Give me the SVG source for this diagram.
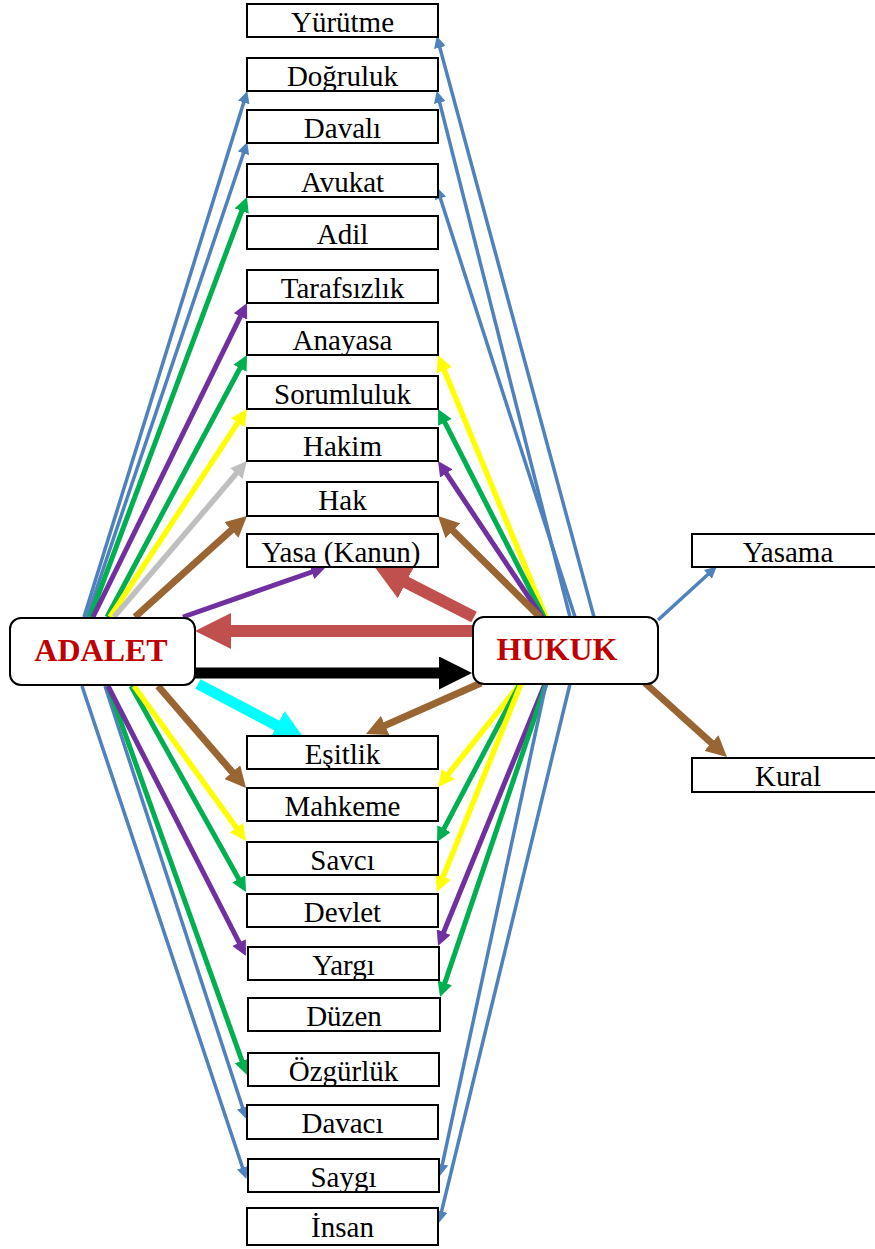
<svg xmlns="http://www.w3.org/2000/svg" width="875" height="1249" viewBox="0 0 875 1249">
<style>
.box{fill:#fff;stroke:#000;stroke-width:2}
.hub{fill:#fff;stroke:#000;stroke-width:2}
.lbl{font-size:29px;font-weight:normal;fill:#000;text-anchor:middle}
.hubt{font-size:32px;font-weight:bold;fill:#C00000;text-anchor:middle}
line{fill:none}
.bl{stroke:#4F81BD;stroke-width:3.5;marker-end:url(#mBl)}
.gr{stroke:#00B050;stroke-width:5;marker-end:url(#mGr)}
.pu{stroke:#7030A0;stroke-width:5;marker-end:url(#mPu)}
.ye{stroke:#FFFF00;stroke-width:5.5;marker-end:url(#mYe)}
.ga{stroke:#BFBFBF;stroke-width:5.5;marker-end:url(#mGa)}
.br{stroke:#996633;stroke-width:7;marker-end:url(#mBr)}
.cy{stroke:#00FFFF;stroke-width:11;marker-end:url(#mCy)}
.rd{stroke:#C0504D;stroke-width:12;marker-end:url(#mRd)}
.bk{stroke:#000;stroke-width:11;marker-end:url(#mBk)}
</style>
<defs>
<marker id="mBl" viewBox="0 0 3 3" refX="0.9" refY="1.5" markerWidth="3.4" markerHeight="3.4" orient="auto"><path d="M0,0L3,1.5L0,3z" fill="#4F81BD"/></marker>
<marker id="mGr" viewBox="0 0 3 3" refX="0.9" refY="1.5" markerWidth="3" markerHeight="3" orient="auto"><path d="M0,0L3,1.5L0,3z" fill="#00B050"/></marker>
<marker id="mPu" viewBox="0 0 3 3" refX="0.9" refY="1.5" markerWidth="3" markerHeight="3" orient="auto"><path d="M0,0L3,1.5L0,3z" fill="#7030A0"/></marker>
<marker id="mYe" viewBox="0 0 3 3" refX="0.9" refY="1.5" markerWidth="3" markerHeight="3" orient="auto"><path d="M0,0L3,1.5L0,3z" fill="#FFFF00"/></marker>
<marker id="mGa" viewBox="0 0 3 3" refX="0.9" refY="1.5" markerWidth="3" markerHeight="3" orient="auto"><path d="M0,0L3,1.5L0,3z" fill="#BFBFBF"/></marker>
<marker id="mBr" viewBox="0 0 3 3" refX="0.9" refY="1.5" markerWidth="3" markerHeight="3" orient="auto"><path d="M0,0L3,1.5L0,3z" fill="#996633"/></marker>
<marker id="mCy" viewBox="0 0 3 3" refX="0.9" refY="1.5" markerWidth="3" markerHeight="3" orient="auto"><path d="M0,0L3,1.5L0,3z" fill="#00FFFF"/></marker>
<marker id="mRd" viewBox="0 0 3 3" refX="0.9" refY="1.5" markerWidth="3" markerHeight="3" orient="auto"><path d="M0,0L3,1.5L0,3z" fill="#C0504D"/></marker>
<marker id="mBk" viewBox="0 0 3 3" refX="0.9" refY="1.5" markerWidth="3" markerHeight="3" orient="auto"><path d="M0,0L3,1.5L0,3z" fill="#000"/></marker>
</defs>
<rect width="875" height="1249" fill="#fff"/>
<g id="connectors">
<line class="bl" x1="84" y1="617" x2="244.8" y2="99"/>
<line class="bl" x1="87" y1="617" x2="244.6" y2="150"/>
<line class="gr" x1="90" y1="617" x2="243.3" y2="206.8"/>
<line class="pu" x1="93" y1="617" x2="242.4" y2="312.4"/>
<line class="gr" x1="107" y1="617" x2="242.1" y2="364.3"/>
<line class="ye" x1="110" y1="617" x2="240.6" y2="418.6"/>
<line class="ga" x1="114" y1="617" x2="239.5" y2="469.8"/>
<line class="br" x1="135" y1="617" x2="236.1" y2="525.8"/>
<line class="pu" x1="183" y1="617" x2="316.1" y2="570.5"/>
<line class="bl" x1="82" y1="686" x2="243.7" y2="1171"/>
<line class="bl" x1="105" y1="686" x2="243.7" y2="1111"/>
<line class="gr" x1="108" y1="686" x2="243.5" y2="1065.1"/>
<line class="pu" x1="108" y1="686" x2="241.2" y2="946.6"/>
<line class="gr" x1="131" y1="686" x2="240.9" y2="882.8"/>
<line class="ye" x1="134" y1="686" x2="239.2" y2="831.6"/>
<line class="br" x1="158" y1="686" x2="236.4" y2="776.9"/>
<line class="cy" x1="198" y1="684" x2="285.6" y2="730.2"/>
<line class="bl" x1="594" y1="617" x2="438.9" y2="44.1"/>
<line class="bl" x1="570" y1="617" x2="438.8" y2="99.1"/>
<line class="bl" x1="575" y1="617" x2="439.3" y2="195"/>
<line class="ye" x1="546" y1="617" x2="442.4" y2="365.7"/>
<line class="gr" x1="544" y1="617" x2="442.8" y2="418.4"/>
<line class="pu" x1="542" y1="617" x2="443.8" y2="469.7"/>
<line class="br" x1="540" y1="617" x2="448.4" y2="526.3"/>
<line class="rd" x1="474" y1="617" x2="396.4" y2="577.4"/>
<line class="rd" x1="473" y1="631" x2="220.2" y2="631"/>
<line class="bk" x1="195" y1="673" x2="448.9" y2="673"/>
<line class="br" x1="481" y1="683" x2="379.4" y2="728"/>
<line class="ye" x1="520" y1="684" x2="445.2" y2="778"/>
<line class="gr" x1="520" y1="684" x2="441.9" y2="832.7"/>
<line class="ye" x1="521" y1="684" x2="441.3" y2="881.3"/>
<line class="pu" x1="545" y1="684" x2="442" y2="936.3"/>
<line class="gr" x1="546" y1="684" x2="443.4" y2="987.1"/>
<line class="bl" x1="546" y1="684" x2="441.6" y2="1167.8"/>
<line class="bl" x1="570" y1="684" x2="440.7" y2="1214.9"/>
<line class="bl" x1="658" y1="620" x2="710.6" y2="572"/>
<line class="br" x1="645" y1="683" x2="716.1" y2="747.2"/>
</g>
<g font-family="'Liberation Serif', 'Times New Roman', serif">
<g id="n-adalet"><rect class="hub" x="10" y="618" width="185" height="67" rx="11"/><text class="hubt" x="101" y="661">ADALET</text></g>
<g id="n-hukuk"><rect class="hub" x="473" y="617" width="185" height="67" rx="11"/><text class="hubt" x="557" y="660">HUKUK</text></g>
<g id="n-yurutme"><rect class="box" x="247" y="4" width="191" height="33"/><text class="lbl" x="342.5" y="31.5">Yürütme</text></g>
<g id="n-dogruluk"><rect class="box" x="247" y="58" width="191" height="33"/><text class="lbl" x="342.5" y="85.5">Doğruluk</text></g>
<g id="n-davali"><rect class="box" x="247" y="110" width="191" height="33"/><text class="lbl" x="342.5" y="137.5">Davalı</text></g>
<g id="n-avukat"><rect class="box" x="247" y="164" width="191" height="33"/><text class="lbl" x="342.5" y="191.5">Avukat</text></g>
<g id="n-adil"><rect class="box" x="247" y="216" width="191" height="33"/><text class="lbl" x="342.5" y="243.5">Adil</text></g>
<g id="n-tarafsizlik"><rect class="box" x="247" y="270" width="191" height="33"/><text class="lbl" x="342.5" y="297.5">Tarafsızlık</text></g>
<g id="n-anayasa"><rect class="box" x="247" y="322" width="191" height="33"/><text class="lbl" x="342.5" y="349.5">Anayasa</text></g>
<g id="n-sorumluluk"><rect class="box" x="247" y="376" width="191" height="33"/><text class="lbl" x="342.5" y="403.5">Sorumluluk</text></g>
<g id="n-hakim"><rect class="box" x="247" y="428" width="191" height="33"/><text class="lbl" x="342.5" y="455.5">Hakim</text></g>
<g id="n-hak"><rect class="box" x="247" y="482" width="191" height="34"/><text class="lbl" x="342.5" y="509.5">Hak</text></g>
<g id="n-yasa"><rect class="box" x="247" y="534" width="191" height="33"/><text class="lbl" x="341" y="561.5">Yasa (Kanun)</text></g>
<g id="n-esitlik"><rect class="box" x="247" y="736" width="191" height="33"/><text class="lbl" x="342.5" y="763.5">Eşitlik</text></g>
<g id="n-mahkeme"><rect class="box" x="247" y="788" width="191" height="33"/><text class="lbl" x="342.5" y="815.5">Mahkeme</text></g>
<g id="n-savci"><rect class="box" x="247" y="842" width="191" height="33"/><text class="lbl" x="342.5" y="869.5">Savcı</text></g>
<g id="n-devlet"><rect class="box" x="247" y="894" width="191" height="33"/><text class="lbl" x="342.5" y="921.5">Devlet</text></g>
<g id="n-yargi"><rect class="box" x="248" y="947" width="191" height="33"/><text class="lbl" x="343.5" y="974.5">Yargı</text></g>
<g id="n-duzen"><rect class="box" x="248" y="998" width="192" height="33"/><text class="lbl" x="344" y="1025.5">Düzen</text></g>
<g id="n-ozgurluk"><rect class="box" x="248" y="1053" width="191" height="33"/><text class="lbl" x="343.5" y="1080.5">Özgürlük</text></g>
<g id="n-davaci"><rect class="box" x="247" y="1105" width="191" height="34"/><text class="lbl" x="342.5" y="1132.5">Davacı</text></g>
<g id="n-saygi"><rect class="box" x="248" y="1159" width="191" height="33"/><text class="lbl" x="343.5" y="1186.5">Saygı</text></g>
<g id="n-insan"><rect class="box" x="247" y="1208" width="191" height="37"/><text class="lbl" x="342.5" y="1237">İnsan</text></g>
<g id="n-yasama"><rect class="box" x="692" y="534" width="191" height="33"/><text class="lbl" x="788" y="561.5">Yasama</text></g>
<g id="n-kural"><rect class="box" x="692" y="758" width="191" height="34"/><text class="lbl" x="788" y="786">Kural</text></g>
</g>
</svg>
